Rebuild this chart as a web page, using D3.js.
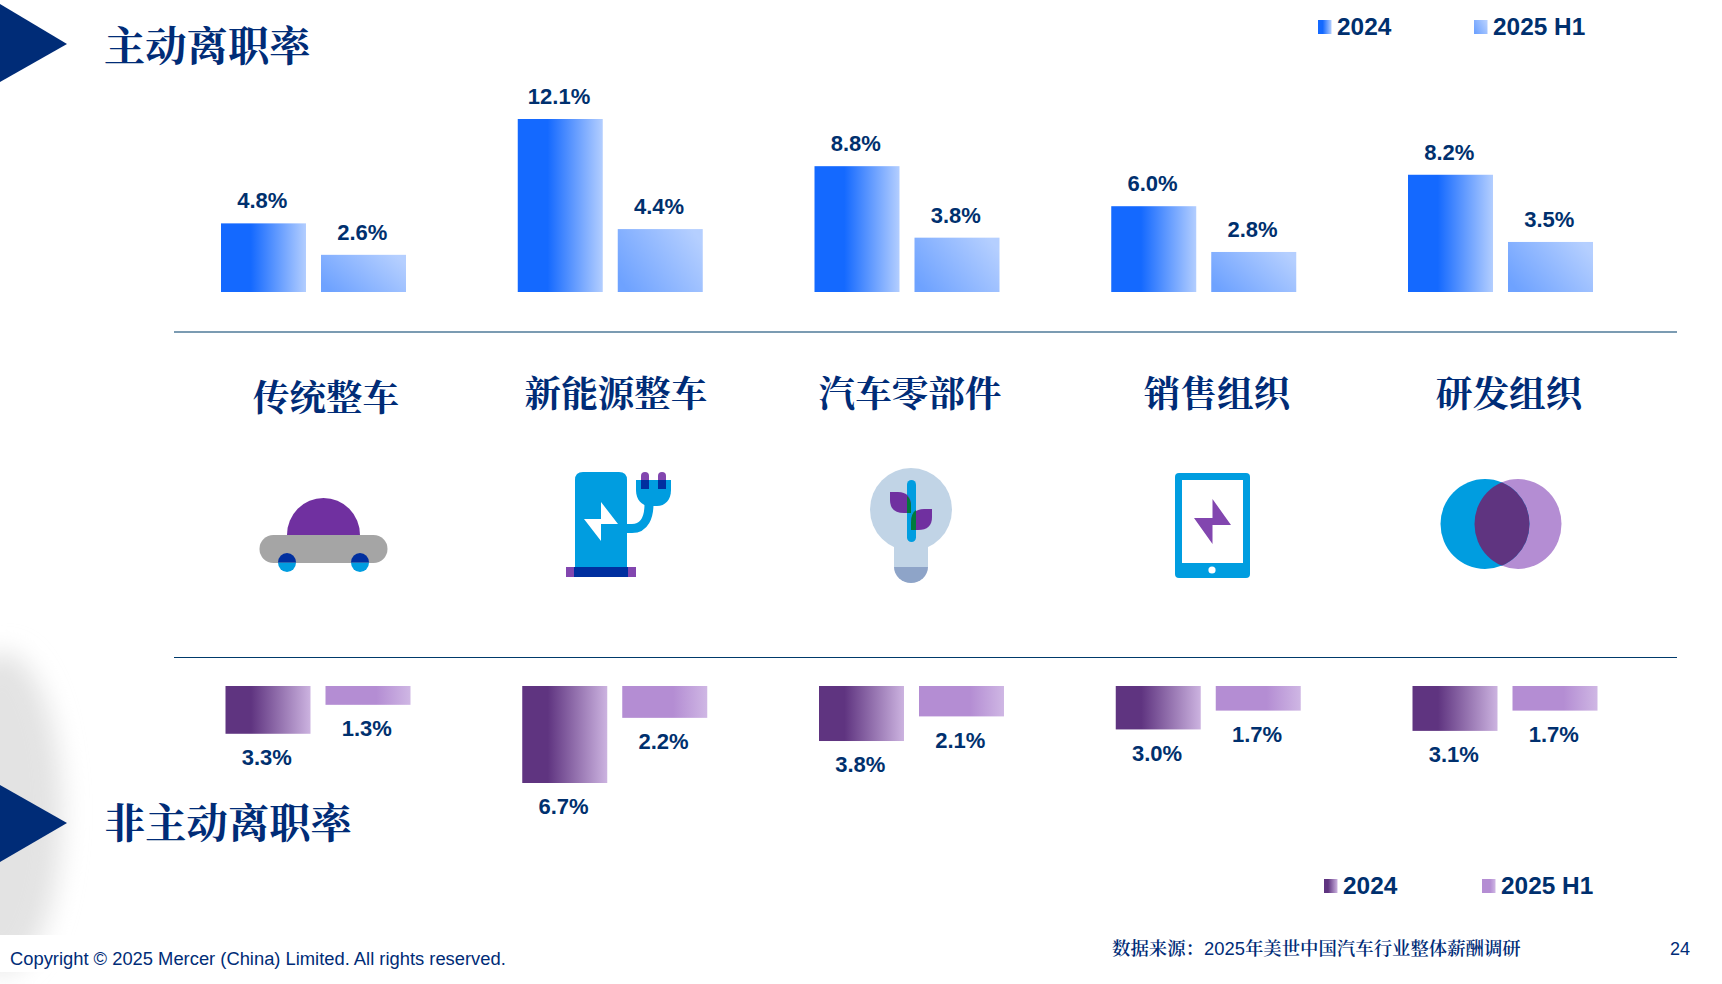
<!DOCTYPE html>
<html lang="zh"><head><meta charset="utf-8">
<script src="https://cdnjs.cloudflare.com/ajax/libs/d3/7.8.5/d3.min.js"></script>
<style>html,body{margin:0;padding:0;background:#fff;overflow:hidden}svg{display:block}</style>
</head><body><div id="c"></div>
<script>
const categories = ["传统整车","新能源整车","汽车零部件","销售组织","研发组织"];
const seriesNames = ["2024","2025 H1"];
const voluntary2024 = [4.8,12.1,8.8,6.0,8.2];
const voluntary2025 = [2.6,4.4,3.8,2.8,3.5];
const involuntary2024 = [3.3,6.7,3.8,3.0,3.1];
const involuntary2025 = [1.3,2.2,2.1,1.7,1.7];
const titleTop = "主动离职率";
const titleBottom = "非主动离职率";
const sourceParts = ["数据来源：","2025","年美世中国汽车行业整体薪酬调研"];
const copyrightText = "Copyright © 2025 Mercer (China) Limited. All rights reserved.";
const pageNumber = "24";

const W=1722,H=984, NAVY="#002c77", LABEL="#00306e";
const SANS='"Liberation Sans",Arial,sans-serif', CJK='"Noto Serif CJK SC","Noto Sans CJK SC",serif';
const svg=d3.select("#c").append("svg").attr("width",W).attr("height",H);
const defs=svg.append("defs");
function grad(id,stops,x1=0,y1=0,x2=1,y2=0){
  const g=defs.append("linearGradient").attr("id",id).attr("x1",x1).attr("y1",y1).attr("x2",x2).attr("y2",y2);
  stops.forEach(s=>g.append("stop").attr("offset",s[0]).attr("stop-color",s[1]));
}
grad("b24",[[0,"#1469ff"],[.35,"#1469ff"],[1,"#b3ceff"]]);
grad("b25",[[0,"#6ea2ff"],[1,"#b5cfff"]],0,0.75,1,0.25);
grad("p24",[[0,"#5f3480"],[.3,"#5f3480"],[1,"#ccb3e0"]]);
grad("p25",[[0,"#b48dd3"],[.6,"#b48dd3"],[1,"#cfb7e4"]]);
defs.append("filter").attr("id","blur").attr("x","-100%").attr("width","300%").attr("y","-30%").attr("height","160%")
  .append("feGaussianBlur").attr("stdDeviation",13);
svg.append("ellipse").attr("cx",2).attr("cy",812).attr("rx",60).attr("ry",160).attr("fill","#e3e3e3").attr("filter","url(#blur)");
svg.append("rect").attr("x",0).attr("y",935).attr("width",200).attr("height",37).attr("fill","#fff");

// scales
const bandTop=d3.scaleBand().domain(categories).range([221,221+296.75*5]);
const inner=d3.scaleBand().domain(seriesNames).range([0,185]).paddingInner(0.15).paddingOuter(0);
const yTop=d3.scaleLinear().domain([0,12.1]).range([292,119]);
const yBot=d3.scaleLinear().domain([0,6.7]).range([686,783]);
const xOffsetBottom=4.5;

function draw(vals,name,top,fill){
  const g=svg.append("g");
  const xOff=top?0:xOffsetBottom, y=top?yTop:yBot;
  const d=categories.map((c,i)=>({c,v:vals[i]}));
  g.selectAll("rect").data(d).join("rect")
    .attr("x",e=>bandTop(e.c)+inner(name)+xOff).attr("width",inner.bandwidth())
    .attr("y",e=>top?y(e.v):y(0)).attr("height",e=>Math.abs(y(e.v)-y(0)))
    .attr("fill",`url(#${fill})`);
  g.selectAll("text").data(d).join("text")
    .attr("x",e=>bandTop(e.c)+inner(name)+xOff+inner.bandwidth()/2-1.2)
    .attr("y",e=>top?y(e.v)-15:y(e.v)+31.2)
    .attr("text-anchor","middle").attr("font-family",SANS).attr("font-weight",700)
    .attr("font-size",22).attr("fill",LABEL).text(e=>e.v.toFixed(1)+"%");
}
draw(voluntary2024,seriesNames[0],true,"b24");
draw(voluntary2025,seriesNames[1],true,"b25");
draw(involuntary2024,seriesNames[0],false,"p24");
draw(involuntary2025,seriesNames[1],false,"p25");

// rules
svg.append("line").attr("x1",174).attr("x2",1677).attr("y1",332).attr("y2",332).attr("stroke","#4f7a98").attr("stroke-width",1.6);
svg.append("line").attr("x1",174).attr("x2",1677).attr("y1",657.5).attr("y2",657.5).attr("stroke","#003a6b").attr("stroke-width",1.2);

// triangles + titles
[[4,44,82],[785,823,862]].forEach(t=>svg.append("polygon").attr("points",`0,${t[0]} 67,${t[1]} 0,${t[2]}`).attr("fill",NAVY));
function title(t,x,y,s,anchor="start"){
  return svg.append("text").attr("x",x).attr("y",y).attr("font-family",CJK).attr("font-weight",700)
   .attr("font-size",s).attr("text-anchor",anchor).attr("fill",NAVY).text(t);
}
title(titleTop,104,61,41.3);
title(titleBottom,104,838,41.3);
const catCenters=[326,616,910,1217,1509], catBase=[410.5,406.5,406.5,406.5,406.5];
categories.forEach((c,i)=>title(c,catCenters[i],catBase[i],36.6,"middle"));

// legends
function legend(x1,x2,tx1,tx2,yS,base,f1,f2){
  [[x1,tx1,f1,seriesNames[0]],[x2,tx2,f2,seriesNames[1]]].forEach(l=>{
    svg.append("rect").attr("x",l[0]).attr("y",yS).attr("width",13.5).attr("height",14).attr("fill",`url(#${l[2]})`);
    svg.append("text").attr("x",l[1]).attr("y",base).attr("font-family",SANS).attr("font-weight",700)
      .attr("font-size",24.4).attr("fill",LABEL).text(l[3]);
  });
}
legend(1318,1474,1337,1493,20,35,"b24","b25");
legend(1324,1482,1343,1501,879,894,"p24","p25");

// footer
const src=svg.append("text").attr("x",1112).attr("y",955).attr("font-size",18.4).attr("fill",NAVY);
src.selectAll("tspan").data(sourceParts).join("tspan")
  .attr("font-family",(d,i)=>i===1?SANS:CJK).attr("font-weight",(d,i)=>i===1?400:600).text(d=>d);
svg.append("text").attr("x",1670).attr("y",955).attr("font-family",SANS).attr("font-size",18).attr("fill",NAVY).text(pageNumber);
svg.append("text").attr("x",10).attr("y",965).attr("font-family",SANS).attr("font-size",18.35).attr("fill",NAVY).text(copyrightText);

// icons
const BLUE="#009de0",DK="#002f9f",PU="#7030a0",PU2="#8246af";
const ic=svg.append("g");
// car
ic.append("path").attr("d","M287,535 A36.5,37 0 0 1 360,535 Z").attr("fill",PU);
ic.append("rect").attr("x",259.5).attr("y",535).attr("width",128).attr("height",28).attr("rx",14).attr("fill","#a5a5a5");
[287,360].forEach(c=>{
  ic.append("path").attr("d",`M${c-9},562.5 A9,9.5 0 0 0 ${c+9},562.5 Z`).attr("fill",BLUE);
  ic.append("path").attr("d",`M${c-9},562.5 A9,9.5 0 0 1 ${c+9},562.5 Z`).attr("fill",DK);
});
// charger
ic.append("path").attr("d","M575,567 V480 Q575,472 583,472 H619 Q627,472 627,480 V567 Z").attr("fill",BLUE);
ic.append("rect").attr("x",566).attr("y",567).attr("width",70).attr("height",10).attr("fill",PU2);
ic.append("rect").attr("x",574).attr("y",567).attr("width",54).attr("height",10).attr("fill",DK);
ic.append("polygon").attr("points","601,502 618,524 601,524 601,541 584,519 601,519").attr("fill","#fff");
ic.append("path").attr("d","M627,528.5 H632 C645,528.5 649,516 649,504").attr("fill","none").attr("stroke",BLUE).attr("stroke-width",9);
ic.append("path").attr("d","M636,480 H671 V490 C671,500 665,506 657,506 H650 C642,506 636,500 636,490 Z").attr("fill",BLUE);
[641,658].forEach(x=>{
  ic.append("path").attr("d",`M${x},480 V476 A4,4 0 0 1 ${x+8},476 V480 Z`).attr("fill",PU2);
  ic.append("rect").attr("x",x).attr("y",480).attr("width",8).attr("height",9).attr("fill",DK);
});
// bulb
ic.append("ellipse").attr("cx",911).attr("cy",509.5).attr("rx",41).attr("ry",41.5).attr("fill","#c1d4e6");
ic.append("rect").attr("x",894).attr("y",540).attr("width",34).attr("height",27).attr("fill","#c1d4e6");
ic.append("path").attr("d","M894,567 H928 A17,16 0 0 1 894,567 Z").attr("fill","#8ea4c8");
ic.append("rect").attr("x",907).attr("y",480).attr("width",9).attr("height",62).attr("rx",4.5).attr("fill",BLUE);
ic.append("path").attr("d","M890,492 H898 Q911,492 911,506 V513 H904 Q890,513 890,500 Z").attr("fill",PU);
ic.append("path").attr("d","M932,509 H924 Q911,509 911,523 V530 H918 Q932,530 932,517 Z").attr("fill",PU);
ic.append("path").attr("d","M907,496 Q911,499 911,506 V513 H907 Z M916,510 Q911,513 911,523 V530 H916 Z").attr("fill","#007a3d");
// tablet
ic.append("rect").attr("x",1175).attr("y",473).attr("width",75).attr("height",105).attr("rx",4).attr("fill",BLUE);
ic.append("rect").attr("x",1182).attr("y",480).attr("width",61).attr("height",83).attr("fill","#fff");
ic.append("circle").attr("cx",1212).attr("cy",570).attr("r",3.6).attr("fill","#fff");
ic.append("polygon").attr("points","1212.5,499 1231,525 1212.5,525 1212.5,544 1194,518 1212.5,518").attr("fill",PU2);
// venn
defs.append("clipPath").attr("id","vl").append("ellipse").attr("cx",1485).attr("cy",524).attr("rx",44.5).attr("ry",45);
ic.append("ellipse").attr("cx",1518).attr("cy",524).attr("rx",43.5).attr("ry",45).attr("fill","#b48dd3");
ic.append("ellipse").attr("cx",1485).attr("cy",524).attr("rx",44.5).attr("ry",45).attr("fill",BLUE);
ic.append("ellipse").attr("cx",1518).attr("cy",524).attr("rx",43.5).attr("ry",45).attr("fill","#5f3480").attr("clip-path","url(#vl)");
</script></body></html>
